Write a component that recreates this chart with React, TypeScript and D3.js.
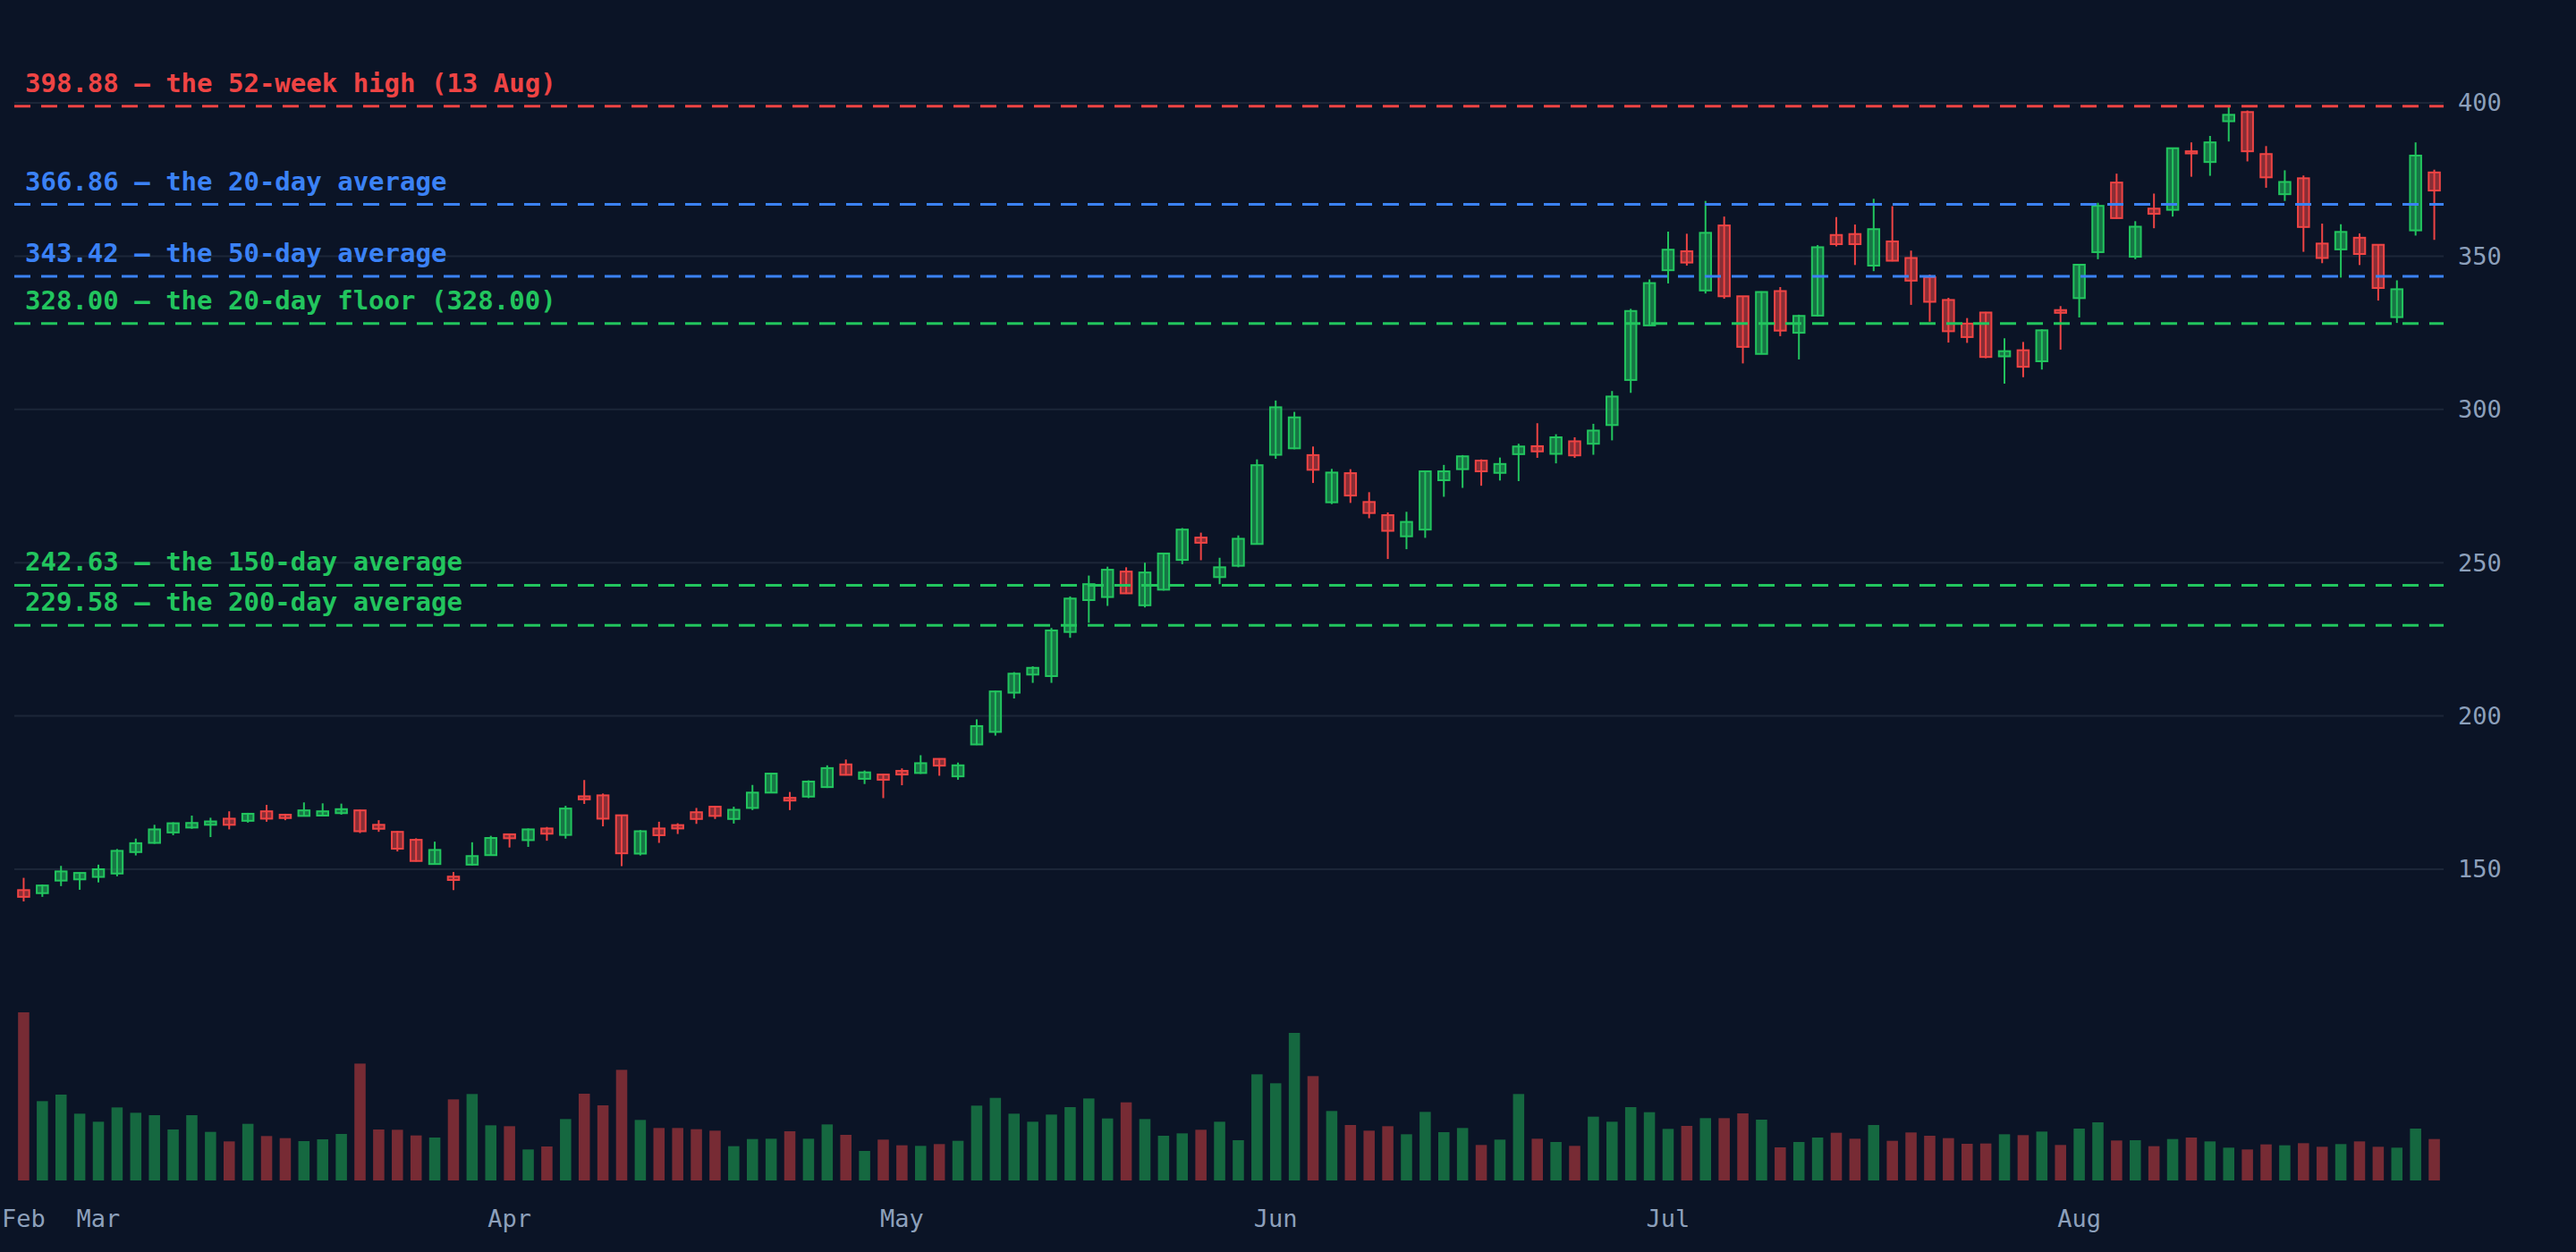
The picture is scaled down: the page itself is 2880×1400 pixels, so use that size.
import React, { useMemo } from 'react';
import * as d3 from 'd3';

// ---- data ----
const opens = [
  143.2, 142.2, 146.3, 146.7, 147.5, 148.6, 155.6, 158.6, 162, 163.6,
  164.5, 166.5, 165.8, 168.9, 167.8, 167.4, 167.5, 168.3, 169.2, 164.5,
  162.2, 159.6, 151.7, 147.6, 151.5, 154.6, 161.4, 159.5, 163.3, 161.2,
  173.8, 174.1, 167.6, 155.1, 163.3, 164.4, 168.6, 170.4, 166.4, 170,
  175, 173.3, 173.7, 176.8, 184.2, 179.5, 180.9, 182.1, 181.4, 186,
  180.3, 190.7, 194.8, 207.6, 213.5, 213, 227.4, 237.8, 238.8, 247.1,
  236.1, 241.2, 250.9, 258.2, 245.3, 249, 256.1, 285.2, 287.3, 285.1,
  269.7, 279.2, 269.8, 265.5, 258.6, 260.8, 276.9, 280.5, 283.3, 279.3,
  285.4, 288, 285.5, 289.6, 288.8, 294.9, 309.6, 327.4, 345.4, 351.6,
  338.8, 360, 336.9, 318.1, 338.6, 325, 330.6, 356.9, 357.2, 346.9,
  354.8, 349.4, 343.1, 335.7, 328, 331.6, 317.3, 319.3, 315.7, 332.4,
  336.3, 351.3, 374, 349.8, 365.5, 365.1, 384.2, 380.7, 394, 397,
  383.3, 370.2, 375.4, 354.1, 352.2, 356, 353.7, 330.1, 358.4, 377.3,
];
const highs = [
  147.2, 145, 151.1, 149, 151.5, 156.6, 160, 164.5, 165.3, 167.5,
  166.8, 168.9, 168.4, 171, 168.1, 171.8, 171.5, 171.4, 169.4, 166,
  162.5, 160.1, 159, 149.1, 158.8, 160.9, 161.6, 163.3, 163.8, 170.7,
  179.1, 174.7, 167.8, 162.8, 165.5, 165, 170, 170.6, 170.4, 177.5,
  181.4, 175.2, 179, 183.9, 185.8, 182.2, 181.1, 182.9, 187.2, 186.2,
  184.8, 198.9, 208.2, 214.3, 216.2, 228.7, 239, 245.8, 248.7, 248.5,
  250, 253.2, 261.3, 259.8, 251.6, 258.9, 283.7, 302.9, 299.2, 287.9,
  280.6, 280.5, 273, 266.4, 266.6, 279.9, 281.9, 285.1, 283.7, 284.3,
  288.8, 295.5, 291.9, 290.9, 295.3, 306, 332.8, 342.4, 358, 357.3,
  368, 362.9, 337, 338.5, 339.9, 330.9, 353.6, 362.7, 360.3, 368.7,
  366.3, 351.8, 344, 336.4, 329.8, 331.8, 323.2, 322, 326.1, 333.7,
  347.5, 367.4, 376.9, 361.4, 370.4, 385.3, 387.1, 389.2, 398.88, 397.5,
  385.9, 378, 376.3, 360.6, 360.4, 357.4, 353.9, 342.1, 387.1, 378.2,
];
const lows = [
  139.5, 141, 144.5, 143.3, 145.7, 147.7, 154.5, 158.3, 161.1, 163.2,
  160.5, 163, 165.2, 165.5, 166, 167.3, 167.3, 167.8, 161.8, 162.2,
  155.8, 152.5, 151.5, 143.2, 151.2, 154.5, 157.1, 157.3, 159.3, 160,
  171.3, 164, 151, 154.5, 158.6, 161.5, 164.8, 166.4, 164.9, 169.3,
  174.8, 169.3, 173.2, 176.5, 180.6, 177.8, 173.2, 177.4, 181.1, 180.5,
  179.2, 190.5, 193.6, 205.7, 210.8, 210.8, 225.5, 230.4, 235.9, 239.8,
  235.4, 240.9, 249.5, 250.8, 243, 248.5, 256, 283.9, 287, 276,
  269.1, 269.5, 264.5, 251.2, 254.4, 258.1, 271.5, 274.4, 275.1, 276.8,
  276.6, 284.2, 282.4, 284.2, 285.2, 289.9, 305.4, 327.3, 341.1, 346.9,
  337.8, 336.1, 315, 318, 323.9, 316.3, 330.3, 353.2, 347.1, 345.1,
  348.3, 334.1, 328.6, 321.8, 321.7, 316.7, 308.4, 310.5, 313, 319.5,
  330, 349, 362.2, 349, 359.1, 362.9, 375.9, 376.2, 387.4, 380.9,
  372.3, 368, 351.4, 347.7, 343, 347.1, 335.5, 328.2, 356.7, 355.3,
];
const closes = [
  141, 144.7, 149.3, 148.8, 150, 156, 158.5, 163, 165, 165.1,
  165.6, 164.5, 168.1, 166.5, 166.7, 169.2, 168.9, 169.6, 162.4, 163.2,
  156.7, 152.7, 156.3, 146.5, 154.3, 160.2, 160.1, 163, 161.6, 169.8,
  172.8, 166.5, 155.2, 162.4, 161.1, 163.3, 166.4, 167.4, 169.4, 175,
  181.2, 172.4, 178.6, 183, 180.8, 181.6, 179.2, 180.9, 184.6, 183.8,
  183.9, 196.7, 208, 213.8, 215.7, 227.9, 238.3, 243, 247.7, 240,
  246.8, 253, 260.8, 256.5, 248.5, 257.8, 281.8, 300.7, 297.4, 280.3,
  279.4, 271.9, 266.2, 260.4, 263.3, 279.8, 279.8, 284.7, 279.8, 282.2,
  287.9, 286.3, 290.9, 285, 293.1, 304.2, 332.1, 341.2, 352.1, 347.9,
  357.6, 336.9, 320.4, 338.3, 325.7, 330.5, 352.9, 353.9, 353.9, 358.8,
  348.5, 342, 335.1, 325.5, 323.6, 317.1, 319, 313.9, 325.8, 331.5,
  347.2, 366.4, 362.4, 359.6, 363.8, 385.2, 383.5, 387.1, 396.1, 384.2,
  375.7, 374.2, 359.5, 349.4, 357.9, 350.7, 339.6, 339.2, 382.8, 371.4,
];
// volume, millions of shares
const volumes = [
  56.4, 26.6, 28.8, 22.4, 19.7, 24.5, 22.7, 21.9, 17.1, 21.9,
  16.3, 13.1, 19.0, 14.9, 14.2, 13.2, 13.8, 15.6, 39.2, 17.1,
  17.0, 15.1, 14.4, 27.2, 29.0, 18.5, 18.2, 10.4, 11.4, 20.6,
  29.1, 25.2, 37.1, 20.3, 17.6, 17.6, 17.2, 16.7, 11.5, 13.9,
  14.0, 16.5, 14.0, 18.8, 15.3, 9.9, 13.7, 11.8, 11.6, 12.2,
  13.3, 25.1, 27.7, 22.4, 19.7, 22.1, 24.6, 27.5, 20.8, 26.2,
  20.6, 15.0, 15.8, 17.0, 19.7, 13.5, 35.6, 32.6, 49.5, 35.0,
  23.3, 18.6, 16.7, 18.2, 15.5, 23.0, 16.2, 17.6, 11.9, 13.7,
  29.0, 14.0, 12.9, 11.6, 21.4, 19.7, 24.6, 22.9, 17.3, 18.3,
  20.9, 20.9, 22.5, 20.4, 11.1, 12.9, 14.4, 16.0, 14.0, 18.6,
  13.3, 16.1, 15.0, 14.2, 12.3, 12.4, 15.5, 15.2, 16.4, 11.9,
  17.4, 19.5, 13.4, 13.5, 11.5, 13.9, 14.4, 13.1, 11.0, 10.4,
  12.1, 11.8, 12.5, 11.3, 12.2, 13.1, 11.3, 11.0, 17.4, 13.9,
];

const monthLabels = ['Feb', 'Mar', 'Apr', 'May', 'Jun', 'Jul', 'Aug'];
const monthStartIndex = [0, 4, 26, 47, 67, 88, 110];
const priceTicks = [150, 200, 250, 300, 350, 400];

const levelValues = [398.88, 366.86, 343.42, 328.0, 242.63, 229.58];
const levelLabels = [
  '398.88 — the 52-week high (13 Aug)',
  '366.86 — the 20-day average',
  '343.42 — the 50-day average',
  '328.00 — the 20-day floor (328.00)',
  '242.63 — the 150-day average',
  '229.58 — the 200-day average',
];
const levelKinds = ['high', 'short', 'short', 'floor', 'long', 'long'];

// ---- styling ----
const W = 2880;
const H = 1400;
const BG = '#0b1426';
const UP = '#22c55e';
const DOWN = '#ef4444';
const GRID = '#1c2638';
const AXIS_TEXT = '#8da0bb';
const MONO = "'DejaVu Sans Mono', monospace";
const kindColor: Record<string, string> = {
  high: '#ef4444',
  short: '#3b82f6',
  floor: '#22c55e',
  long: '#22c55e',
};

const plot = { left: 16, right: 2732 };

export default function App() {
  const n = closes.length;

  const x = useMemo(
    () =>
      d3
        .scaleBand<number>()
        .domain(d3.range(n))
        .range([plot.left, plot.right])
        .paddingInner(0.4)
        .paddingOuter(0.2),
    [n]
  );
  const y = useMemo(() => d3.scaleLinear().domain([150, 400]).range([972, 115]), []);
  const yVol = useMemo(
    () => d3.scaleLinear().domain([0, d3.max(volumes)!]).range([1320, 1132]),
    []
  );

  const bw = x.bandwidth();
  const cx = (i: number) => x(i)! + bw / 2;

  return (
    <div style={{ position: 'fixed', inset: 0, background: BG }}>
      <svg width={W} height={H} viewBox={`0 0 ${W} ${H}`} style={{ display: 'block' }}>
        <rect x={0} y={0} width={W} height={H} fill={BG} />

        {/* price gridlines + right axis */}
        {priceTicks.map((t) => (
          <g key={t}>
            <line x1={plot.left} x2={plot.right} y1={y(t)} y2={y(t)} stroke={GRID} strokeWidth={2} />
            <text
              x={plot.right + 16}
              y={y(t)}
              dy="0.35em"
              fontFamily={MONO}
              fontSize={27}
              fill={AXIS_TEXT}
            >
              {t}
            </text>
          </g>
        ))}

        {/* volume */}
        {volumes.map((v, i) => {
          const up = closes[i] >= opens[i];
          return (
            <rect
              key={i}
              x={x(i)}
              y={yVol(v)}
              width={bw}
              height={yVol(0) - yVol(v)}
              fill={up ? UP : DOWN}
              fillOpacity={0.48}
            />
          );
        })}

        {/* candles */}
        {closes.map((c, i) => {
          const o = opens[i];
          const up = c >= o;
          const col = up ? UP : DOWN;
          const top = y(Math.max(o, c));
          const bot = y(Math.min(o, c));
          return (
            <g key={i}>
              <line x1={cx(i)} x2={cx(i)} y1={y(highs[i])} y2={y(lows[i])} stroke={col} strokeWidth={2} />
              <rect
                x={x(i)}
                y={top}
                width={bw}
                height={Math.max(2, bot - top)}
                fill={col}
                fillOpacity={0.55}
                stroke={col}
                strokeWidth={2}
              />
            </g>
          );
        })}

        {/* reference levels */}
        {levelValues.map((v, i) => {
          const col = kindColor[levelKinds[i]];
          return (
            <g key={v}>
              <line
                x1={plot.left}
                x2={plot.right}
                y1={y(v)}
                y2={y(v)}
                stroke={col}
                strokeWidth={3}
                strokeDasharray="18 12"
              />
              <text
                x={plot.left + 12}
                y={y(v) - 16}
                fontFamily={MONO}
                fontSize={29}
                fontWeight={700}
                fill={col}
              >
                {levelLabels[i]}
              </text>
            </g>
          );
        })}

        {/* month labels */}
        {monthLabels.map((m, k) => (
          <text
            key={m}
            x={cx(monthStartIndex[k])}
            y={1372}
            textAnchor="middle"
            fontFamily={MONO}
            fontSize={27}
            fill={AXIS_TEXT}
          >
            {m}
          </text>
        ))}
      </svg>
    </div>
  );
}
